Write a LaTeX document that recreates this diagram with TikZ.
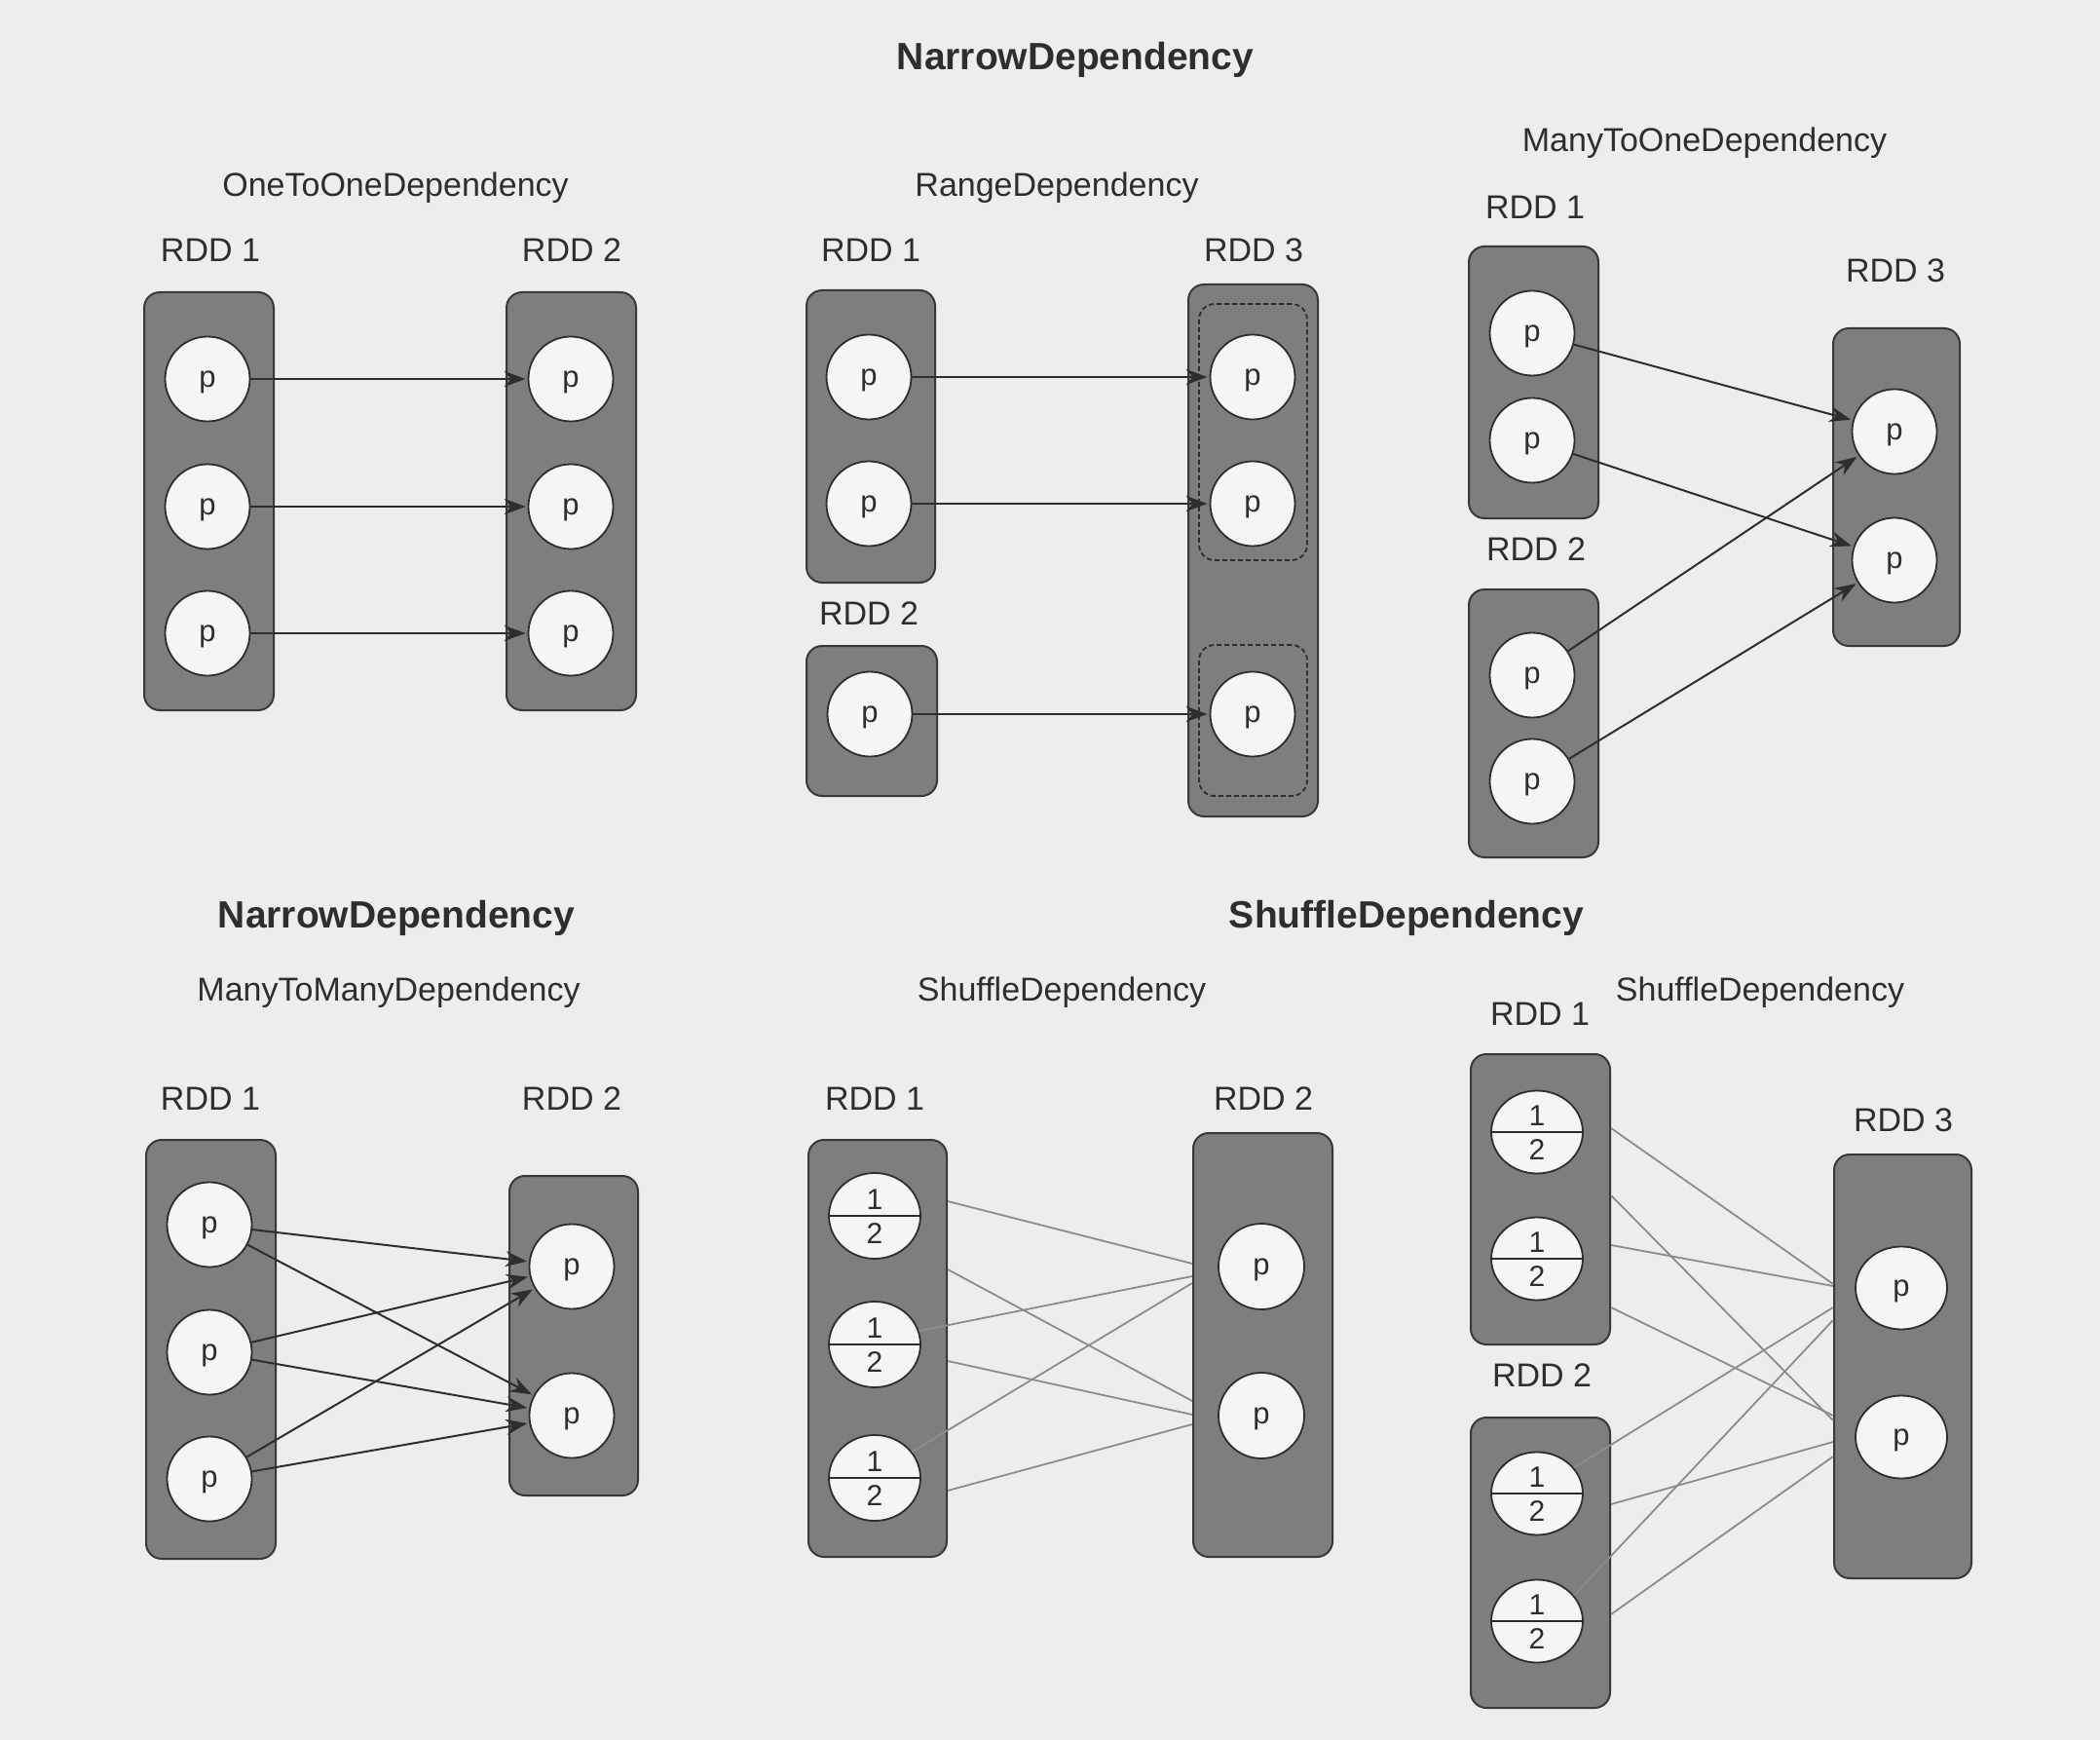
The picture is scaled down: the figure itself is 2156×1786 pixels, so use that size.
\documentclass[tikz,border=0pt]{standalone}
\usepackage{fontspec}
\setmainfont{Liberation Sans}
\usetikzlibrary{fit,shapes.geometric,arrows.meta,calc}
\definecolor{paper}{HTML}{EDEDED}
\definecolor{boxfill}{HTML}{7E7E7E}
\definecolor{boxline}{HTML}{383838}
\definecolor{partfill}{HTML}{F5F5F5}
\definecolor{ink}{HTML}{2E2E2E}
\definecolor{shufline}{HTML}{8C8C8C}
\begin{document}
\begin{tikzpicture}[x=0.5pt,y=-0.5pt,
  rdd/.style={draw=boxline, fill=boxfill, line width=1pt, rounded corners=8pt, inner sep=0pt},
  grp/.style={draw=ink, dash pattern=on 2.5pt off 1.5pt, line width=0.9pt, rounded corners=8pt, inner sep=0pt},
  part/.style={circle, draw=ink, fill=partfill, line width=0.9pt, minimum size=43.5pt, inner sep=0pt, text depth=0pt, text=ink, font=\fontsize{15.5}{18}\selectfont},
  pell/.style={ellipse, draw=ink, fill=partfill, line width=0.9pt, minimum width=47pt, minimum height=42.5pt, inner sep=0pt, text depth=0pt, text=ink, font=\fontsize{15.5}{18}\selectfont},
  half/.style={ellipse, draw=ink, fill=partfill, line width=0.9pt, minimum width=47pt, minimum height=44pt, inner sep=0pt},
  num/.style={text=ink, font=\fontsize{15}{17}\selectfont, inner sep=0pt},
  lbl/.style={text=ink, font=\fontsize{17}{20}\selectfont, inner sep=0pt},
  ttl/.style={text=ink, font=\bfseries\fontsize{19.5}{23}\selectfont, inner sep=0pt},
  dep/.style={draw=ink, line width=1pt, -{Stealth[length=11pt,width=8pt]}, shorten >=1pt},
  shuf/.style={draw=shufline, line width=0.9pt},
  divider/.style={draw=ink, line width=0.9pt},
]
\fill[paper] (0,0) rectangle (2156,1786);
\useasboundingbox (0,0) rectangle (2156,1786);

% titles
\node[ttl] (t1) at (1104,61) {NarrowDependency};
\node[ttl] (t2) at (407,942) {NarrowDependency};
\node[ttl] (t3) at (1444,942) {ShuffleDependency};

% ---------- A: OneToOneDependency ----------
\node[lbl] (Aname) at (406,193) {OneToOneDependency};
\node[lbl] (A1l) at (216,257) {RDD 1};
\node[lbl] (A2l) at (587,257) {RDD 2};
\node[rdd, fit={(148,300) (281,729)}] (A1) {};
\node[rdd, fit={(520,300) (653,729)}] (A2) {};
\node[part] (a11) at (213,389) {p};
\node[part] (a12) at (213,520) {p};
\node[part] (a13) at (213,650) {p};
\node[part] (a21) at (586,389) {p};
\node[part] (a22) at (586,520) {p};
\node[part] (a23) at (586,650) {p};
\draw[dep] (a11) -- (a21);
\draw[dep] (a12) -- (a22);
\draw[dep] (a13) -- (a23);

% ---------- B: RangeDependency ----------
\node[lbl] (Bname) at (1085,193) {RangeDependency};
\node[lbl] (B1l) at (894,257) {RDD 1};
\node[lbl] (B3l) at (1287,257) {RDD 3};
\node[lbl] (B2l) at (892,630) {RDD 2};
\node[rdd, fit={(828,298) (960,598)}] (B1) {};
\node[rdd, fit={(828,663) (962,817)}] (B2) {};
\node[rdd, fit={(1220,292) (1353,838)}] (B3) {};
\node[grp, fit={(1231,312) (1342,575)}] (B3g1) {};
\node[grp, fit={(1231,662) (1342,817)}] (B3g2) {};
\node[part] (b11) at (892,387) {p};
\node[part] (b12) at (892,517) {p};
\node[part] (b21) at (893,733) {p};
\node[part] (b31) at (1286,387) {p};
\node[part] (b32) at (1286,517) {p};
\node[part] (b33) at (1286,733) {p};
\draw[dep] (b11) -- (b31);
\draw[dep] (b12) -- (b32);
\draw[dep] (b21) -- (b33);

% ---------- C: ManyToOneDependency ----------
\node[lbl] (Cname) at (1750,147) {ManyToOneDependency};
\node[lbl] (C1l) at (1576,213) {RDD 1};
\node[lbl] (C2l) at (1577,564) {RDD 2};
\node[lbl] (C3l) at (1946,278) {RDD 3};
\node[rdd, fit={(1508,253) (1641,532)}] (C1) {};
\node[rdd, fit={(1508,605) (1641,880)}] (C2) {};
\node[rdd, fit={(1882,337) (2012,663)}] (C3) {};
\node[part] (c11) at (1573,342) {p};
\node[part] (c12) at (1573,452) {p};
\node[part] (c21) at (1573,693) {p};
\node[part] (c22) at (1573,802) {p};
\node[part] (c31) at (1945,443) {p};
\node[part] (c32) at (1945,575) {p};
\draw[dep] (c11) -- (c31);
\draw[dep] (c12) -- (c32);
\draw[dep] (c21) -- (c31);
\draw[dep] (c22) -- (c32);

% ---------- D: ManyToManyDependency ----------
\node[lbl] (Dname) at (399,1019) {ManyToManyDependency};
\node[lbl] (D1l) at (216,1128) {RDD 1};
\node[lbl] (D2l) at (587,1128) {RDD 2};
\node[rdd, fit={(150,1170) (283,1600)}] (D1) {};
\node[rdd, fit={(523,1207) (655,1535)}] (D2) {};
\node[part] (d11) at (215,1257) {p};
\node[part] (d12) at (215,1388) {p};
\node[part] (d13) at (215,1518) {p};
\node[part] (d21) at (587,1300) {p};
\node[part] (d22) at (587,1453) {p};
\foreach \s in {d11,d12,d13}{
  \draw[dep] (\s) -- (d21);
  \draw[dep] (\s) -- (d22);
}

% ---------- E: ShuffleDependency ----------
\node[lbl] (Ename) at (1090,1019) {ShuffleDependency};
\node[lbl] (E1l) at (898,1128) {RDD 1};
\node[lbl] (E2l) at (1297,1128) {RDD 2};
\node[rdd, fit={(830,1170) (972,1598)}] (E1) {};
\node[rdd, fit={(1225,1163) (1368,1598)}] (E2) {};
\node[half] (e11) at (898,1248) {};
\node[half] (e12) at (898,1380) {};
\node[half] (e13) at (898,1517) {};
\node[part, minimum size=44pt] (e21) at (1295,1300) {p};
\node[part, minimum size=44pt] (e22) at (1295,1453) {p};

% ---------- F: ShuffleDependency ----------
\node[lbl] (Fname) at (1807,1019) {ShuffleDependency};
\node[lbl] (F1l) at (1581,1041) {RDD 1};
\node[lbl] (F2l) at (1583,1412) {RDD 2};
\node[lbl] (F3l) at (1954,1150) {RDD 3};
\node[rdd, fit={(1510,1082) (1653,1380)}] (F1) {};
\node[rdd, fit={(1510,1455) (1653,1753)}] (F2) {};
\node[rdd, fit={(1883,1185) (2024,1620)}] (F3) {};
\node[half, minimum height=42.5pt] (f11) at (1578,1162) {};
\node[half, minimum height=42.5pt] (f12) at (1578,1292) {};
\node[half, minimum height=42.5pt] (f21) at (1578,1533) {};
\node[half, minimum height=42.5pt] (f22) at (1578,1664) {};
\node[pell] (f31) at (1952,1322) {p};
\node[pell] (f32) at (1952,1475) {p};

% split partitions: divider and 1/2
\foreach \h in {e11,e12,e13,f11,f12,f21,f22}{
  \draw[divider] (\h.west) -- (\h.east);
  \node[num] (\h-one) at ($(\h.center)+(0,-17)$) {1};
  \node[num] (\h-two) at ($(\h.center)+(0,18)$) {2};
}

% shuffle lines E
\draw[shuf] ($(E1.east)+(0,-151)$) -- ($(E2.west)+(0,-83.5)$);
\draw[shuf] ($(E1.east)+(0,-81)$) -- ($(E2.west)+(0,57.5)$);
\draw[shuf] (e12.17) -- ($(E2.west)+(0,-70.5)$);
\draw[shuf] ($(E1.east)+(0,13)$) -- ($(E2.west)+(0,71.5)$);
\draw[shuf] (e13.35) -- ($(E2.west)+(0,-63.5)$);
\draw[shuf] ($(E1.east)+(0,146)$) -- ($(E2.west)+(0,81.5)$);

% shuffle lines F
\draw[shuf] ($(F1.east)+(0,-73)$) -- ($(F3.west)+(0,-84.5)$);
\draw[shuf] ($(F1.east)+(0,-4)$) -- ($(F3.west)+(0,55.5)$);
\draw[shuf] ($(F1.east)+(0,47)$) -- ($(F3.west)+(0,-82.5)$);
\draw[shuf] ($(F1.east)+(0,111)$) -- ($(F3.west)+(0,50.5)$);
\draw[shuf] (f21.35) -- ($(F3.west)+(0,-60.5)$);
\draw[shuf] ($(F2.east)+(0,-60)$) -- ($(F3.west)+(0,77.5)$);
\draw[shuf] (f22.35) -- ($(F3.west)+(0,-47.5)$);
\draw[shuf] ($(F2.east)+(0,53)$) -- ($(F3.west)+(0,92.5)$);
\end{tikzpicture}
\end{document}
